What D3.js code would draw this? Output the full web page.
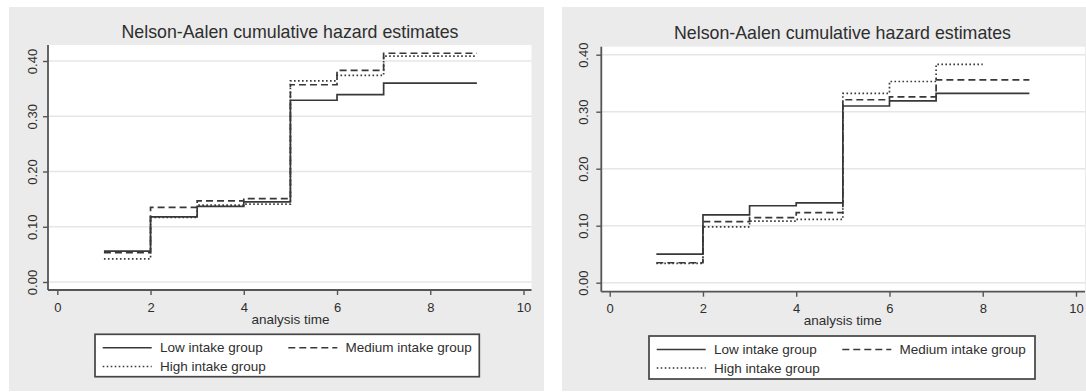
<!DOCTYPE html>
<html lang="en">
<head>
<meta charset="UTF-8">
<title>Nelson-Aalen cumulative hazard estimates</title>
<script src="https://cdn.jsdelivr.net/npm/d3@7"></script>
<style>
  body { margin: 0; background: #fff; }
  svg text { font-family: "Liberation Sans", Arial, sans-serif; fill: #2e2e2e; }
</style>
</head>
<body>
<svg width="1086" height="392"></svg>
<script>
// values
var timesLeft = [1, 2, 3, 4, 5, 6, 7, 9];
var leftLow    = [0.056, 0.118, 0.137, 0.145, 0.329, 0.339, 0.360, 0.360];
var leftMedium = [0.053, 0.135, 0.147, 0.151, 0.357, 0.383, 0.414, 0.414];
var leftHigh   = [0.042, 0.117, 0.139, 0.141, 0.364, 0.374, 0.409, 0.409];

var timesRight = [1, 2, 3, 4, 5, 6, 7, 9];
var timesRightHigh = [1, 2, 3, 4, 5, 6, 7, 8];
var rightLow    = [0.050, 0.119, 0.135, 0.140, 0.310, 0.319, 0.332, 0.332];
var rightMedium = [0.035, 0.107, 0.114, 0.123, 0.321, 0.326, 0.356, 0.356];
var rightHigh   = [0.034, 0.098, 0.108, 0.111, 0.332, 0.353, 0.383, 0.383];

var xTicks = [0, 2, 4, 6, 8, 10];
var yTicks = [0, 0.1, 0.2, 0.3, 0.4];
var groupNames = ["Low intake group", "Medium intake group", "High intake group"];
var titleText = "Nelson-Aalen cumulative hazard estimates";
var xTitle = "analysis time";

var dashes = ["none", "7,4", "1.6,2.4"];
var ink = "#383838";

var svg = d3.select("svg");

var panels = [
  { bg: [9, 7, 535, 384], plot: [48, 45, 531.5, 290], x0: 57.3, x10: 523.5, y0: 282, y40: 61,
    titleX: 290, titleY: 37.5, ylabDx: 11.5, xlabDy: 21.7, xTitleY: 323.5,
    legend: [95, 334.3, 384.3, 42.4],
    series: [[timesLeft, leftLow], [timesLeft, leftMedium], [timesLeft, leftHigh]] },
  { bg: [562, 7, 524, 384], plot: [601.3, 46.7, 1085, 291.7], x0: 609.7, x10: 1076, y0: 282.7, y40: 54.7,
    titleX: 842.5, titleY: 39, ylabDx: 13, xlabDy: 21, xTitleY: 325,
    legend: [649, 336, 386, 43],
    series: [[timesRight, rightLow], [timesRight, rightMedium], [timesRightHigh, rightHigh]] }
];

panels.forEach(function(p) {
  var g = svg.append("g");

  g.append("rect")
    .attr("x", p.bg[0]).attr("y", p.bg[1])
    .attr("width", p.bg[2]).attr("height", p.bg[3])
    .attr("fill", "#ebebeb");

  g.append("rect")
    .attr("x", p.plot[0]).attr("y", p.plot[1])
    .attr("width", p.plot[2] - p.plot[0]).attr("height", p.plot[3] - p.plot[1])
    .attr("fill", "#fff");

  var x = d3.scaleLinear().domain([0, 10]).range([p.x0, p.x10]);
  var y = d3.scaleLinear().domain([0, 0.4]).range([p.y0, p.y40]);

  // grid
  g.selectAll(".grid")
    .data(yTicks)
    .enter().append("line")
    .attr("x1", p.plot[0]).attr("x2", p.plot[2])
    .attr("y1", function(d) { return y(d); })
    .attr("y2", function(d) { return y(d); })
    .attr("stroke", "#e6e6e6")
    .attr("stroke-width", 1.5);

  // y axis
  var ya = g.append("g")
    .attr("transform", "translate(" + p.plot[0] + ",0)")
    .call(d3.axisLeft(y).tickValues(yTicks).tickSize(5).tickFormat(d3.format(".2f")));
  ya.select(".domain").remove();
  ya.selectAll("line").attr("stroke", "#555").attr("stroke-width", 1.4);
  ya.selectAll("text")
    .attr("transform", "rotate(-90)")
    .attr("x", 0).attr("y", -p.ylabDx).attr("dy", 0)
    .attr("text-anchor", "middle")
    .style("font-size", "13px");

  // x axis
  var xa = g.append("g")
    .attr("transform", "translate(0," + p.plot[3] + ")")
    .call(d3.axisBottom(x).tickValues(xTicks).tickSize(5));
  xa.select(".domain").remove();
  xa.selectAll("line").attr("stroke", "#555").attr("stroke-width", 1.4);
  xa.selectAll("text")
    .attr("y", p.xlabDy).attr("dy", 0)
    .style("font-size", "13px");

  g.append("line")
    .attr("x1", p.plot[0]).attr("x2", p.plot[0])
    .attr("y1", p.plot[1]).attr("y2", p.plot[3])
    .attr("stroke", "#555").attr("stroke-width", 1.8);
  g.append("line")
    .attr("x1", p.plot[0]).attr("x2", p.plot[2])
    .attr("y1", p.plot[3]).attr("y2", p.plot[3])
    .attr("stroke", "#555").attr("stroke-width", 1.8);

  // step lines
  var line = d3.line()
    .x(function(d) { return x(d[0]); })
    .y(function(d) { return y(d[1]); })
    .curve(d3.curveStepAfter);

  p.series.forEach(function(s, i) {
    var pts = s[0].map(function(t, k) { return [t, s[1][k]]; });
    g.append("path")
      .attr("d", line(pts))
      .attr("fill", "none")
      .attr("stroke", ink)
      .attr("stroke-width", 1.7)
      .attr("stroke-dasharray", dashes[i]);
  });

  // titles
  g.append("text")
    .attr("x", p.titleX).attr("y", p.titleY)
    .attr("text-anchor", "middle")
    .style("font-size", "17.8px")
    .text(titleText);

  g.append("text")
    .attr("x", (p.x0 + p.x10) / 2).attr("y", p.xTitleY)
    .attr("text-anchor", "middle")
    .style("font-size", "13.5px")
    .text(xTitle);

  // legend
  var lg = g.append("g").attr("transform", "translate(" + p.legend[0] + "," + p.legend[1] + ")");
  lg.append("rect")
    .attr("width", p.legend[2]).attr("height", p.legend[3])
    .attr("fill", "#fff").attr("stroke", "#444").attr("stroke-width", 1.7);

  var slots = [[7.7, 18], [193.3, 18], [7.7, 36.7]];
  slots.forEach(function(sl, i) {
    lg.append("line")
      .attr("x1", sl[0]).attr("x2", sl[0] + 49)
      .attr("y1", sl[1] - 4.6).attr("y2", sl[1] - 4.6)
      .attr("stroke", ink).attr("stroke-width", 1.5)
      .attr("stroke-dasharray", dashes[i]);
    lg.append("text")
      .attr("x", sl[0] + 57.3).attr("y", sl[1])
      .style("font-size", "13.5px")
      .text(groupNames[i]);
  });
});
</script>
</body>
</html>
